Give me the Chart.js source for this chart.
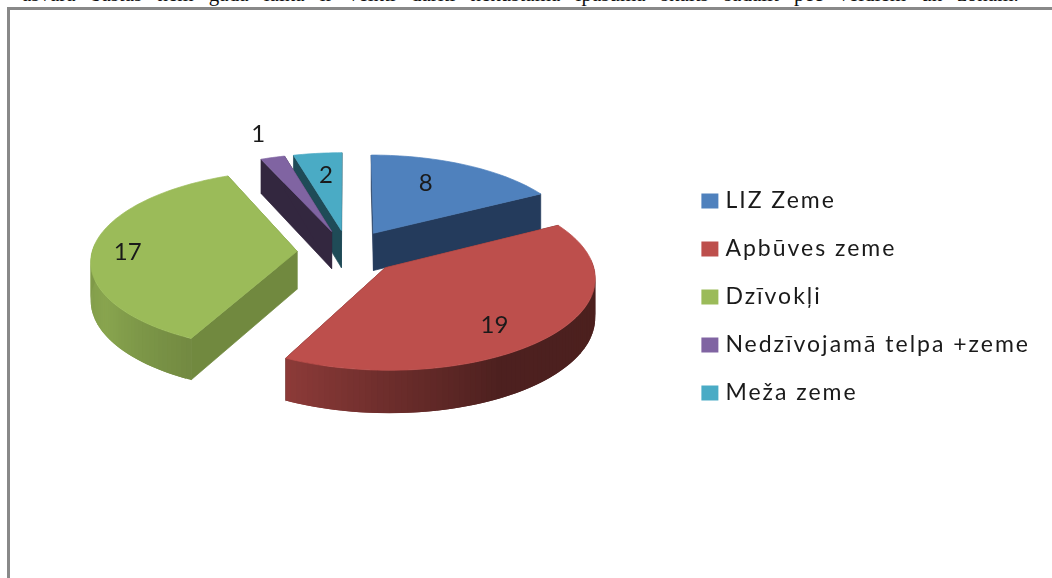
<!DOCTYPE html>
<html>
<head>
<meta charset="utf-8">
<script src="https://cdn.jsdelivr.net/npm/chart.js@4"></script>
<style>
  html, body { margin: 0; padding: 0; background: #fff; width: 1052px; height: 578px; overflow: hidden; }
  #docline { position: absolute; left: 22px; top: -18px; font: 21px "Liberation Serif", serif; color: #111; white-space: nowrap; word-spacing: 10px; }
  #frame { position: absolute; left: 7px; top: 7px; width: 1060px; height: 600px; border: 3px solid #898989; }
  canvas { position: absolute; left: 0; top: 0; }
</style>
</head>
<body>
<div id="docline">asvara bastas nem gada laikā ir veikti darīti nekustamā īpašuma skaits sadalīt pēc veidiem un zonām.</div>
<div id="frame"></div>
<canvas id="pie" width="1052" height="578"></canvas>
<script>
const categories = ['LIZ Zeme', 'Apbūves zeme', 'Dzīvokļi', 'Nedzīvojamā telpa +zeme', 'Meža zeme'];
const counts = [8, 19, 17, 1, 2];

const topColors = ['#4F81BD', '#BD4F4C', '#9BBB59', '#8064A2', '#4AABC5'];
const wallColors = ['#243B5C', '#5A2422', '#71893F', '#33273F', '#1F4B57'];
const outerRgb = [[79, 129, 189], [192, 80, 77], [155, 187, 89], [128, 100, 162], [75, 172, 198]];
// label placement: shift from mid angle (deg) and share of radius
const labelShift = [-6, 6.5, -3, 1, 0.7];
const labelShare = [0.68, 0.76, 0.825, 1.35, 0.69];

// fake 3d projection, fitted to the picture
const view = { cx: 348, cy: 252, tilt: 0.4356, persp: 0.000475, depth: 38 };
// how dark the rim gets at a given clock angle
const rimShade = [[0, 0.38], [150, 0.40], [180, 0.57], [207, 0.74], [240, 0.88], [270, 0.82], [360, 0.8]];
const legendSpacing = '2px';

function project(u, v, drop) {
  const w = 1 - view.persp * v;
  return { x: view.cx + u / w, y: view.cy + view.tilt * v / w + (drop ? view.depth / w : 0) };
}

function shadeAt(deg) {
  for (let i = 1; i < rimShade.length; i++) {
    if (deg <= rimShade[i][0]) {
      const a = rimShade[i - 1], b = rimShade[i];
      return a[1] + (b[1] - a[1]) * (deg - a[0]) / (b[0] - a[0]);
    }
  }
  return 0.8;
}

function fillPoly(ctx, pts, color) {
  ctx.beginPath();
  pts.forEach((p, i) => i ? ctx.lineTo(p.x, p.y) : ctx.moveTo(p.x, p.y));
  ctx.closePath();
  ctx.fillStyle = color;
  ctx.strokeStyle = color;
  ctx.lineWidth = 0.7;
  ctx.fill();
  ctx.stroke();
}

function drawSlice(ctx, arc, idx) {
  const mid = (arc.startAngle + arc.endAngle) / 2;
  const off = arc.options.offset;
  const r = arc.outerRadius;
  const ax = Math.cos(mid) * off, ay = Math.sin(mid) * off;
  const steps = Math.max(4, Math.ceil((arc.endAngle - arc.startAngle) / (Math.PI / 120)));
  const edge = [];
  for (let s = 0; s <= steps; s++) {
    const a = arc.startAngle + (arc.endAngle - arc.startAngle) * s / steps;
    edge.push({ a, u: ax + Math.cos(a) * r, v: ay + Math.sin(a) * r });
  }
  const first = edge[0], last = edge[steps];

  // flat walls
  [first, last].forEach(e => {
    fillPoly(ctx, [project(ax, ay), project(e.u, e.v), project(e.u, e.v, true), project(ax, ay, true)], wallColors[idx]);
  });
  // rim, in small pieces so the shade can run along it. each piece reaches over the next one, no seams
  for (let s = 0; s < steps; s++) {
    const p = edge[s], q = edge[Math.min(s + 2, steps)];
    if (Math.sin(p.a) < -0.05 && Math.sin(q.a) < -0.05) continue;
    const deg = ((p.a * 180 / Math.PI) + 90 + 360) % 360;
    const k = shadeAt(deg);
    const c = outerRgb[idx].map(n => Math.round(n * k));
    ctx.beginPath();
    [project(p.u, p.v), project(q.u, q.v), project(q.u, q.v, true), project(p.u, p.v, true)]
      .forEach((pt, i) => i ? ctx.lineTo(pt.x, pt.y) : ctx.moveTo(pt.x, pt.y));
    ctx.closePath();
    ctx.fillStyle = `rgb(${c.join(',')})`;
    ctx.fill();
  }
  // top face
  fillPoly(ctx, [project(ax, ay)].concat(edge.map(e => project(e.u, e.v))), topColors[idx]);
}

function drawLabel(ctx, arc, idx) {
  const mid = (arc.startAngle + arc.endAngle) / 2;
  const off = arc.options.offset;
  const a = mid + labelShift[idx] * Math.PI / 180;
  const rr = arc.outerRadius * labelShare[idx];
  const p = project(Math.cos(mid) * off + Math.cos(a) * rr, Math.sin(mid) * off + Math.sin(a) * rr);
  ctx.fillStyle = '#1a1a1a';
  ctx.font = '24px Lato';
  ctx.textAlign = 'center';
  ctx.textBaseline = 'middle';
  ctx.letterSpacing = '0px';
  ctx.fillText(String(counts[idx]), p.x, p.y);
}

const pie3d = {
  id: 'pie3d',
  beforeLayout(chart) {
    chart.ctx.letterSpacing = legendSpacing;
  },
  beforeDatasetDraw(chart, args) {
    const ctx = chart.ctx;
    const arcs = chart.getDatasetMeta(args.index).data;
    const order = arcs.map((a, i) => i).sort((i, j) => {
      const mi = (arcs[i].startAngle + arcs[i].endAngle) / 2;
      const mj = (arcs[j].startAngle + arcs[j].endAngle) / 2;
      return Math.sin(mi) - Math.sin(mj);
    });
    const spacing = ctx.letterSpacing;
    ctx.save();
    order.forEach(i => drawSlice(ctx, arcs[i], i));
    arcs.forEach((a, i) => drawLabel(ctx, a, i));
    ctx.restore();
    ctx.letterSpacing = spacing;
    return false;
  },
  beforeDraw(chart) {
    chart.ctx.letterSpacing = legendSpacing;
  }
};

new Chart(document.getElementById('pie'), {
  type: 'pie',
  data: {
    labels: categories,
    datasets: [{
      data: counts,
      backgroundColor: topColors,
      borderColor: topColors,
      borderWidth: 9, // only the legend sees this: a fat border keeps its box close to the text
      offset: 51
    }]
  },
  plugins: [pie3d],
  options: {
    responsive: false,
    animation: false,
    radius: 205,
    layout: { padding: { top: 16, right: 12 } },
    plugins: {
      title: { display: false },
      tooltip: { enabled: false },
      legend: {
        position: 'right',
        labels: {
          boxWidth: 8,
          boxHeight: 6,
          padding: 25,
          color: '#1a1a1a',
          font: { family: 'Lato', size: 23 }
        }
      }
    }
  }
});
</script>
</body>
</html>
